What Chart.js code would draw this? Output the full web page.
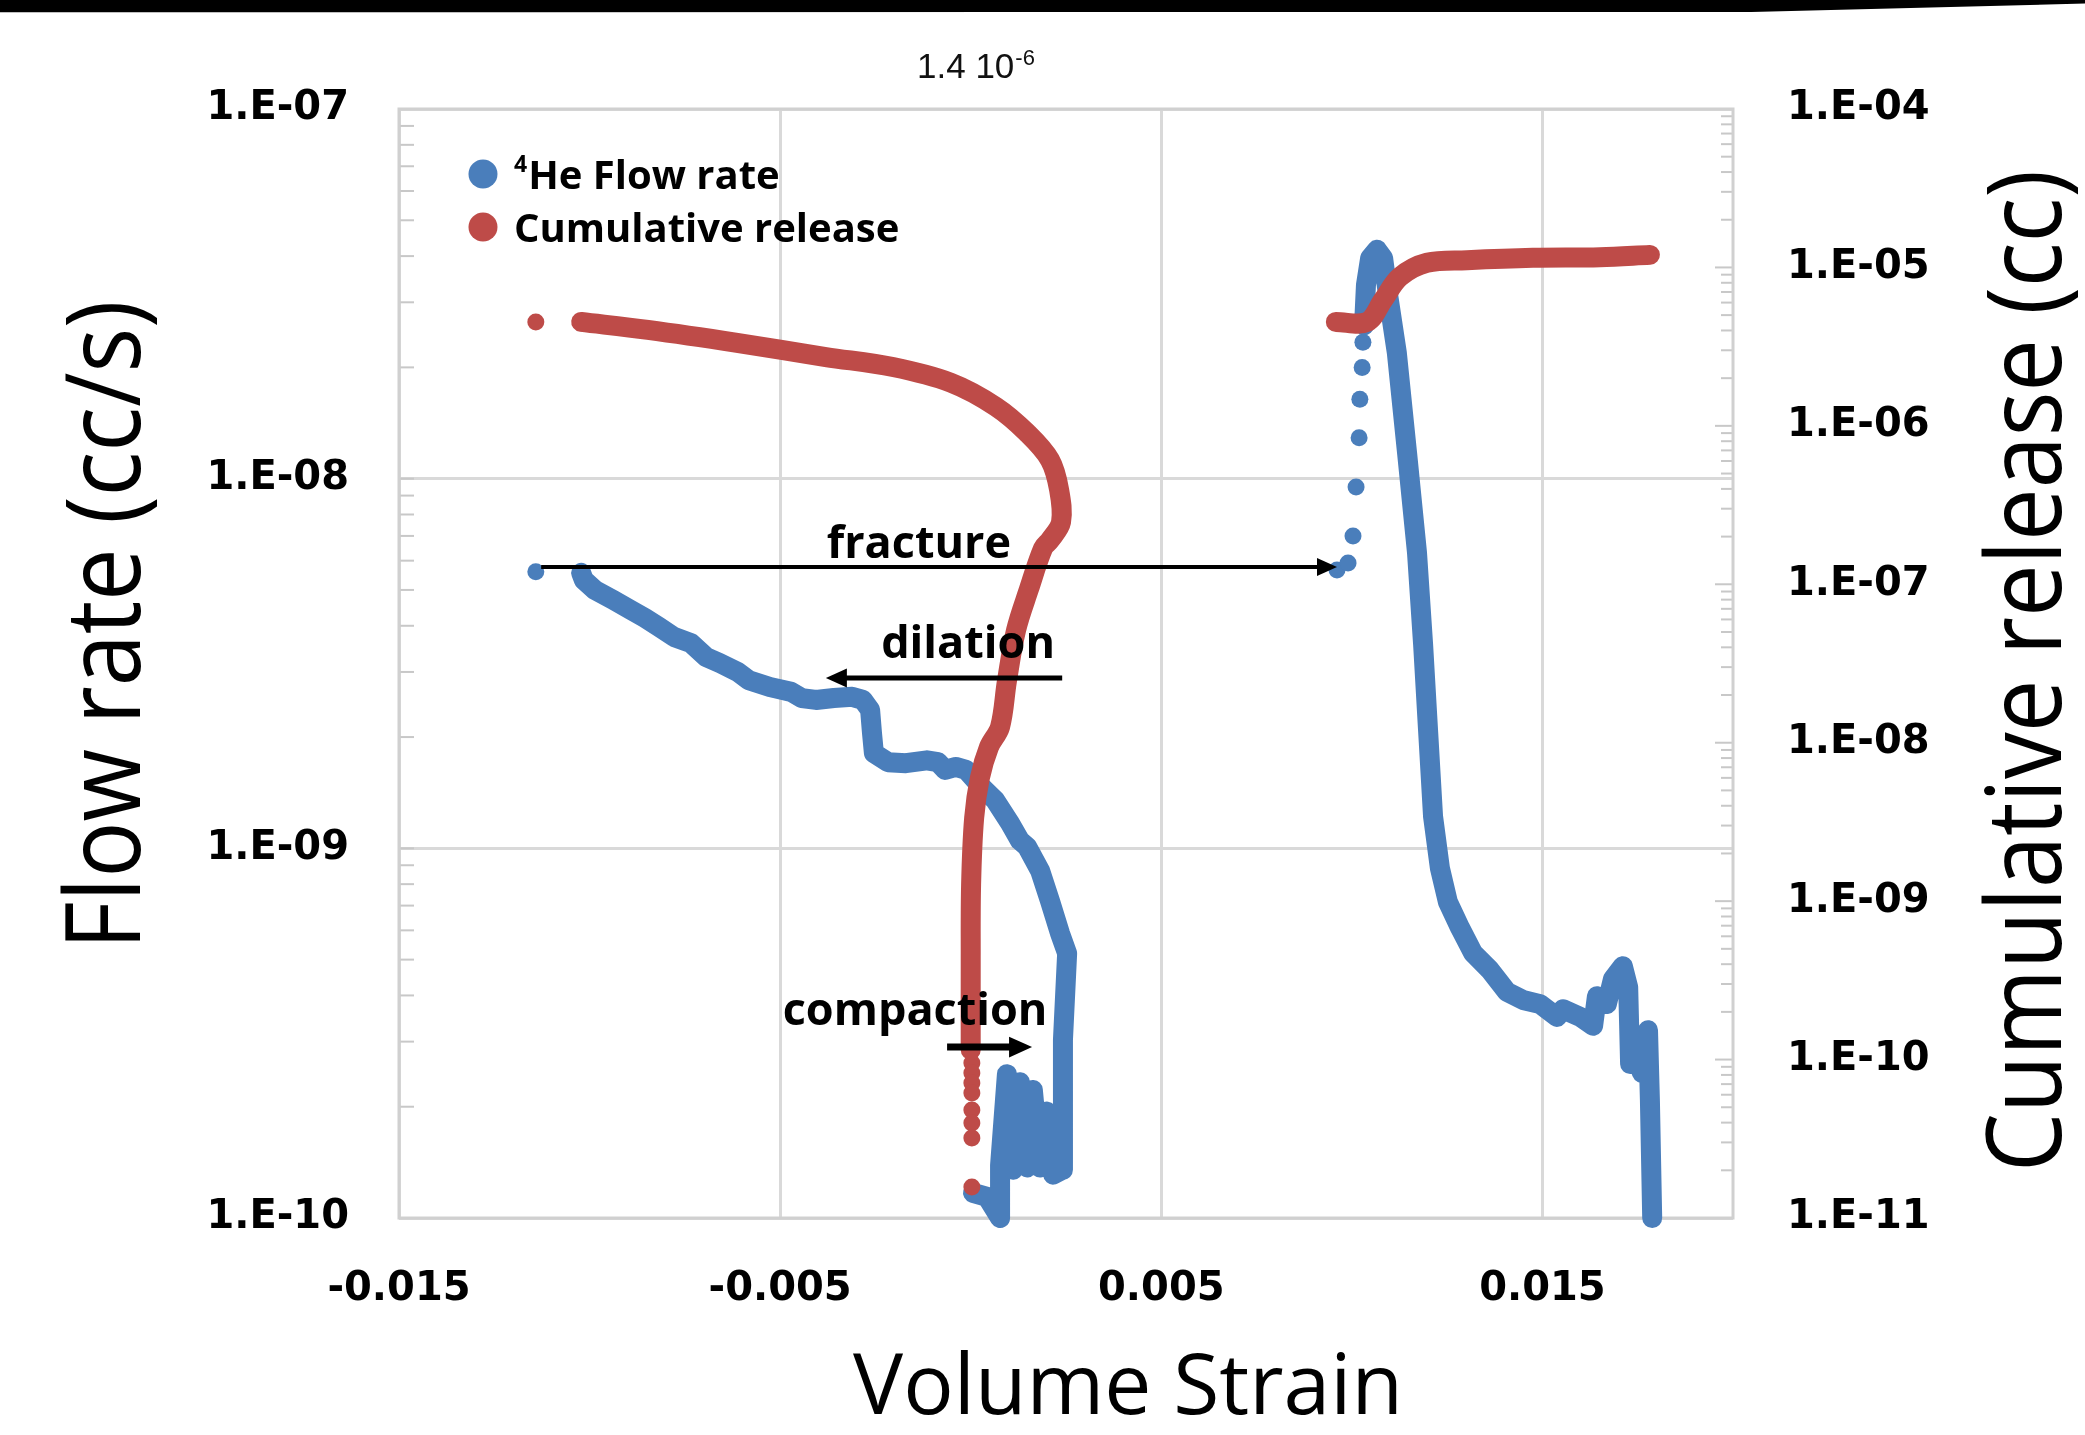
<!DOCTYPE html>
<html lang="en">
<head>
    <meta charset="UTF-8">
    <title>Flow rate and cumulative release vs volume strain</title>
    <script src="https://cdn.jsdelivr.net/npm/chart.js"></script>
    <style>
        body {
            margin: 0;
            background: #fff;
        }
        .frame {
            position: relative;
            width: 2085px;
            height: 1435px;
        }
        .top-band {
            position: absolute;
            top: 0;
            left: 0;
            width: 2085px;
            height: 14px;
            background: #000;
            clip-path: polygon(0 0, 100% 0, 100% 25%, 84% 85%, 0 88%);
        }
    </style>
</head>
<body>
    <div class="frame">
        <canvas id="strainChart" width="2085" height="1435"></canvas>
        <div class="top-band"></div>
    </div>

    <script>
        // axis ticks
        const strainTicks = [-0.015, -0.005, 0.005, 0.015];
        const flowDecades = [1e-10, 1e-9, 1e-8, 1e-7];
        const releaseDecades = [1e-11, 1e-10, 1e-9, 1e-8, 1e-7, 1e-6, 1e-5, 1e-4];
        const minorSteps = [2, 3, 4, 5, 6, 7, 8, 9];

        // 4He flow rate (cc/s): compaction + dilation, before fracture
        const flowPreStrain = [0.00006, 0.00043, 0.00077, 0.00077, 0.00095, 0.00111, 0.00129, 0.00148, 0.00163, 0.00182,
            0.00200, 0.00216, 0.00240, 0.00242, 0.00253, 0.00234, 0.00208, 0.00182, 0.00148, 0.00129,
            0.00103, 0.00064, 0.00027, -0.00012, -0.00039, -0.00067, -0.00086, -0.00115, -0.00170, -0.00217,
            -0.00254, -0.00259, -0.00264, -0.00283, -0.00311, -0.00359, -0.00406, -0.00443, -0.00471, -0.00527,
            -0.00582, -0.00611, -0.00658, -0.00694, -0.00734, -0.00778, -0.00818, -0.00855, -0.00891, -0.00938,
            -0.00986, -0.01015, -0.01022];
        const flowPreRate = [1.17e-10, 1.14e-10, 1.00e-10, 1.39e-10, 2.45e-10, 1.35e-10, 2.33e-10, 1.37e-10, 2.22e-10, 1.37e-10,
            1.94e-10, 1.31e-10, 1.35e-10, 3.03e-10, 5.2e-10, 5.9e-10, 7.2e-10, 8.7e-10, 1.01e-9, 1.05e-9,
            1.17e-9, 1.35e-9, 1.47e-9, 1.63e-9, 1.66e-9, 1.63e-9, 1.71e-9, 1.73e-9, 1.70e-9, 1.71e-9,
            1.81e-9, 2.05e-9, 2.37e-9, 2.52e-9, 2.57e-9, 2.55e-9, 2.52e-9, 2.55e-9, 2.65e-9, 2.73e-9,
            2.85e-9, 3.00e-9, 3.17e-9, 3.29e-9, 3.59e-9, 3.73e-9, 3.97e-9, 4.20e-9, 4.41e-9, 4.70e-9,
            5.00e-9, 5.32e-9, 5.56e-9];

        // sparse flow readings around the fracture jump
        const flowDotStrain = [-0.01141, 0.00961, 0.00990, 0.01003, 0.01011, 0.01019, 0.01021, 0.01027, 0.01029];
        const flowDotRate = [5.6e-9, 5.66e-9, 5.91e-9, 7.0e-9, 9.49e-9, 1.29e-8, 1.64e-8, 2.0e-8, 2.34e-8];

        // flow after fracture
        const flowPostStrain = [0.01032, 0.01037, 0.01048, 0.01066, 0.01082, 0.01092, 0.01118, 0.01145, 0.01171, 0.01187,
            0.01200, 0.01213, 0.01231, 0.01252, 0.01284, 0.01318, 0.01362, 0.01407, 0.01449, 0.01494,
            0.01538, 0.01554, 0.01599, 0.01633, 0.01643, 0.01669, 0.01685, 0.01711, 0.01725, 0.01730,
            0.01748, 0.01761, 0.01777, 0.01782, 0.01788];
        const flowPostRate = [2.6e-8, 3.34e-8, 3.95e-8, 4.16e-8, 3.95e-8, 3.30e-8, 2.19e-8, 1.17e-8, 6.29e-9, 3.55e-9,
            2.08e-9, 1.22e-9, 8.84e-10, 7.16e-10, 6.09e-10, 5.21e-10, 4.69e-10, 4.09e-10, 3.89e-10, 3.79e-10,
            3.50e-10, 3.67e-10, 3.50e-10, 3.31e-10, 3.98e-10, 3.79e-10, 4.43e-10, 4.80e-10, 4.21e-10, 2.61e-10,
            2.68e-10, 2.47e-10, 3.22e-10, 2.08e-10, 1.0e-10];

        // cumulative release (cc) before fracture
        const relPreStrain = [-0.01022, -0.00847, -0.00613, -0.00380, -0.00204, -0.00052, 0.00066, 0.00148, 0.00208, 0.00232,
            0.00237, 0.00208, 0.00190, 0.00153, 0.00119, 0.00095, 0.00077, 0.00048, 0.00024, 0.00009,
            0.00001, 0.0, 0.0];
        const relPreValue = [4.53e-6, 4.03e-6, 3.34e-6, 2.72e-6, 2.35e-6, 1.87e-6, 1.32e-6, 9.02e-7, 6.09e-7, 3.94e-7,
            2.47e-7, 1.90e-7, 1.69e-7, 9.34e-8, 5.14e-8, 2.45e-8, 1.26e-8, 9.4e-9, 5.99e-9, 3.35e-9,
            1.27e-9, 4.19e-10, 1.15e-10];

        const relDotStrain = [-0.01141, 0.00003, 0.00003, 0.00003, 0.00003, 0.00003, 0.00003, 0.00003, 0.00003];
        const relDotValue = [4.53e-6, 9.51e-11, 8.23e-11, 7.11e-11, 6.15e-11, 4.81e-11, 3.98e-11, 3.2e-11, 1.57e-11];

        // cumulative release after fracture
        const relPostStrain = [0.00958, 0.01040, 0.01082, 0.01126, 0.01197, 0.01302, 0.01475, 0.01651, 0.01782];
        const relPostValue = [4.53e-6, 4.53e-6, 6.23e-6, 8.71e-6, 1.07e-5, 1.11e-5, 1.15e-5, 1.16e-5, 1.20e-5];

        // annotations: label, arrow from/to strain at a flow level, label anchor
        const noteText = ['fracture', 'dilation', 'compaction'];
        const noteArrowFrom = [-0.01127, 0.0024, -0.00062];
        const noteArrowTo = [0.00961, -0.0038, 0.00161];
        const noteArrowFlow = [5.77e-9, 2.89e-9, 2.9e-10];
        const noteLabelStrain = [-0.00136, -0.00007, -0.00146];
        const noteLabelFlow = [6.1e-9, 3.27e-9, 3.33e-10];

        const flowColor = '#4a7ebb';
        const releaseColor = '#be4b48';
        const gridColor = '#d9d9d9';
        const tickFont = { family: 'DejaVu Sans', size: 40, weight: 'bold' };

        function isDecade(v) {
            const e = Math.log10(v);
            return Math.abs(e - Math.round(e)) < 1e-6;
        }

        function logTicks(decades) {
            const ticks = [];
            decades.forEach((d, i) => {
                ticks.push({ value: d, major: true });
                if (i < decades.length - 1) {
                    minorSteps.forEach(m => ticks.push({ value: d * m, major: false }));
                }
            });
            return ticks;
        }

        function decadeLabel(value) {
            if (!isDecade(value)) return '';
            const e = Math.round(Math.log10(value));
            return '1.E' + (e < 0 ? '-' : '+') + String(Math.abs(e)).padStart(2, '0');
        }

        function points(xs, ys) {
            return xs.map((x, i) => ({ x: x, y: ys[i] }));
        }

        function band(xs, ys, color, axis, tension) {
            return {
                data: points(xs, ys),
                yAxisID: axis,
                showLine: true,
                borderColor: color,
                borderWidth: 20,
                borderCapStyle: 'round',
                borderJoinStyle: 'round',
                tension: tension || 0,
                pointRadius: 0,
                clip: false,
                order: axis === 'y2' ? 0 : 1
            };
        }

        function dots(xs, ys, color, axis) {
            return {
                data: points(xs, ys),
                yAxisID: axis,
                showLine: false,
                backgroundColor: color,
                borderWidth: 0,
                pointRadius: 8.5,
                clip: false,
                order: axis === 'y2' ? 0 : 1
            };
        }

        const legendItems = [
            { sup: '4', text: 'He Flow rate', color: flowColor },
            { sup: '', text: 'Cumulative release', color: releaseColor }
        ];

        // plot frame plus the short inner tick marks of both log axes
        const framePlugin = {
            id: 'frame',
            beforeDatasetsDraw(chart) {
                const { ctx, chartArea: a, scales } = chart;
                ctx.save();
                ctx.strokeStyle = '#c8c8c8';
                ctx.lineWidth = 2;
                scales.y.ticks.forEach(t => {
                    const y = scales.y.getPixelForValue(t.value);
                    ctx.beginPath();
                    ctx.moveTo(a.left, y);
                    ctx.lineTo(a.left + 15, y);
                    ctx.stroke();
                });
                scales.y2.ticks.forEach(t => {
                    const y = scales.y2.getPixelForValue(t.value);
                    const len = isDecade(t.value) ? 18 : 12;
                    ctx.beginPath();
                    ctx.moveTo(a.right, y);
                    ctx.lineTo(a.right - len, y);
                    ctx.stroke();
                });
                ctx.strokeStyle = '#d0d0d0';
                ctx.lineWidth = 3;
                ctx.strokeRect(a.left, a.top, a.right - a.left, a.bottom - a.top);
                ctx.restore();
            }
        };

        function drawArrow(ctx, x0, x1, y, width) {
            const dir = Math.sign(x1 - x0);
            const head = 16 + width;
            ctx.lineWidth = width;
            ctx.beginPath();
            ctx.moveTo(x0, y);
            ctx.lineTo(x1 - dir * head * 0.8, y);
            ctx.stroke();
            ctx.beginPath();
            ctx.moveTo(x1, y);
            ctx.lineTo(x1 - dir * head, y - head * 0.45);
            ctx.lineTo(x1 - dir * head, y + head * 0.45);
            ctx.closePath();
            ctx.fill();
        }

        function drawVertical(ctx, text, x, y) {
            ctx.save();
            ctx.translate(x, y);
            ctx.rotate(-Math.PI / 2);
            ctx.scale(0.9, 1);
            ctx.textAlign = 'center';
            ctx.textBaseline = 'alphabetic';
            ctx.fillText(text, 0, 0);
            ctx.restore();
        }

        const notesPlugin = {
            id: 'notes',
            afterDatasetsDraw(chart) {
                const { ctx, scales } = chart;
                const arrowWidth = [4, 5, 7];
                ctx.save();
                ctx.fillStyle = '#000';
                ctx.strokeStyle = '#000';
                noteText.forEach((text, i) => {
                    const y = scales.y.getPixelForValue(noteArrowFlow[i]);
                    drawArrow(ctx, scales.x.getPixelForValue(noteArrowFrom[i]),
                        scales.x.getPixelForValue(noteArrowTo[i]), y, arrowWidth[i]);
                    ctx.font = 'bold 45px "Open Sans"';
                    ctx.textAlign = 'center';
                    ctx.textBaseline = 'alphabetic';
                    ctx.fillText(text, scales.x.getPixelForValue(noteLabelStrain[i]),
                        scales.y.getPixelForValue(noteLabelFlow[i]));
                });
                ctx.restore();
            },
            afterDraw(chart) {
                const { ctx, chartArea: a } = chart;
                ctx.save();
                ctx.textBaseline = 'alphabetic';

                // legend
                legendItems.forEach((item, i) => {
                    const cy = a.top + 65 + i * 53;
                    ctx.fillStyle = item.color;
                    ctx.beginPath();
                    ctx.arc(a.left + 84, cy, 14.5, 0, Math.PI * 2);
                    ctx.fill();
                    ctx.fillStyle = '#000';
                    ctx.textAlign = 'left';
                    let tx = a.left + 115;
                    if (item.sup) {
                        ctx.font = 'bold 23px "Open Sans"';
                        ctx.fillText(item.sup, tx, cy - 2);
                        tx += ctx.measureText(item.sup).width + 1;
                    }
                    ctx.font = 'bold 40px "Open Sans"';
                    ctx.fillText(item.text, tx, cy + 15);
                });

                // axis titles
                ctx.fillStyle = '#000';
                ctx.textAlign = 'center';
                ctx.font = '84px "Open Sans"';
                ctx.fillText('Volume Strain', a.left + 729, a.bottom + 196);
                ctx.font = '104px "Open Sans"';
                drawVertical(ctx, 'Flow rate (cc/s)', a.left - 259, a.top + 516);
                drawVertical(ctx, 'Cumulative release (cc)', a.right + 328, a.top + 562);

                // scale note above the plot
                ctx.textAlign = 'left';
                ctx.font = '35px "Liberation Sans"';
                ctx.fillStyle = '#111';
                const nx = a.left + 518;
                const ny = a.top - 31;
                ctx.fillText('1.4 10', nx, ny);
                const w = ctx.measureText('1.4 10').width;
                ctx.font = '22px "Liberation Sans"';
                ctx.fillText('-6', nx + w + 1, ny - 13);
                ctx.restore();
            }
        };

        const ctx = document.getElementById('strainChart').getContext('2d');
        new Chart(ctx, {
            type: 'scatter',
            data: {
                datasets: [
                    band(relPreStrain, relPreValue, releaseColor, 'y2', 0.35),
                    band(relPostStrain, relPostValue, releaseColor, 'y2', 0.35),
                    dots(relDotStrain, relDotValue, releaseColor, 'y2'),
                    band(flowPreStrain, flowPreRate, flowColor, 'y'),
                    band(flowPostStrain, flowPostRate, flowColor, 'y'),
                    dots(flowDotStrain, flowDotRate, flowColor, 'y')
                ]
            },
            options: {
                responsive: false,
                animation: false,
                devicePixelRatio: 1,
                events: [],
                layout: { padding: { top: 109, left: 0, right: 0, bottom: 0 } },
                plugins: {
                    legend: { display: false },
                    tooltip: { enabled: false }
                },
                scales: {
                    x: {
                        type: 'linear',
                        position: 'bottom',
                        min: -0.015,
                        max: 0.02,
                        afterBuildTicks: s => { s.ticks = strainTicks.map(v => ({ value: v })); },
                        afterFit: s => { s.height = 217; },
                        ticks: {
                            autoSkip: false,
                            maxRotation: 0,
                            padding: 48,
                            color: '#000',
                            font: tickFont,
                            callback: v => v.toFixed(3)
                        },
                        grid: { color: gridColor, lineWidth: 3, drawTicks: false },
                        border: { display: false }
                    },
                    y: {
                        type: 'logarithmic',
                        position: 'left',
                        min: 1e-10,
                        max: 1e-7,
                        afterBuildTicks: s => { s.ticks = logTicks(flowDecades); },
                        afterFit: s => { s.width = 399; },
                        ticks: {
                            autoSkip: false,
                            padding: 50,
                            color: '#000',
                            font: tickFont,
                            callback: decadeLabel
                        },
                        grid: {
                            color: c => (c.tick && isDecade(c.tick.value)) ? gridColor : 'rgba(0,0,0,0)',
                            lineWidth: 3,
                            drawTicks: false
                        },
                        border: { display: false }
                    },
                    y2: {
                        type: 'logarithmic',
                        position: 'right',
                        min: 1e-11,
                        max: 1e-4,
                        afterBuildTicks: s => { s.ticks = logTicks(releaseDecades); },
                        afterFit: s => { s.width = 352; },
                        ticks: {
                            autoSkip: false,
                            padding: 54,
                            color: '#000',
                            font: tickFont,
                            callback: decadeLabel
                        },
                        grid: { drawOnChartArea: false, drawTicks: false },
                        border: { display: false }
                    }
                }
            },
            plugins: [framePlugin, notesPlugin]
        });
    </script>
</body>
</html>
